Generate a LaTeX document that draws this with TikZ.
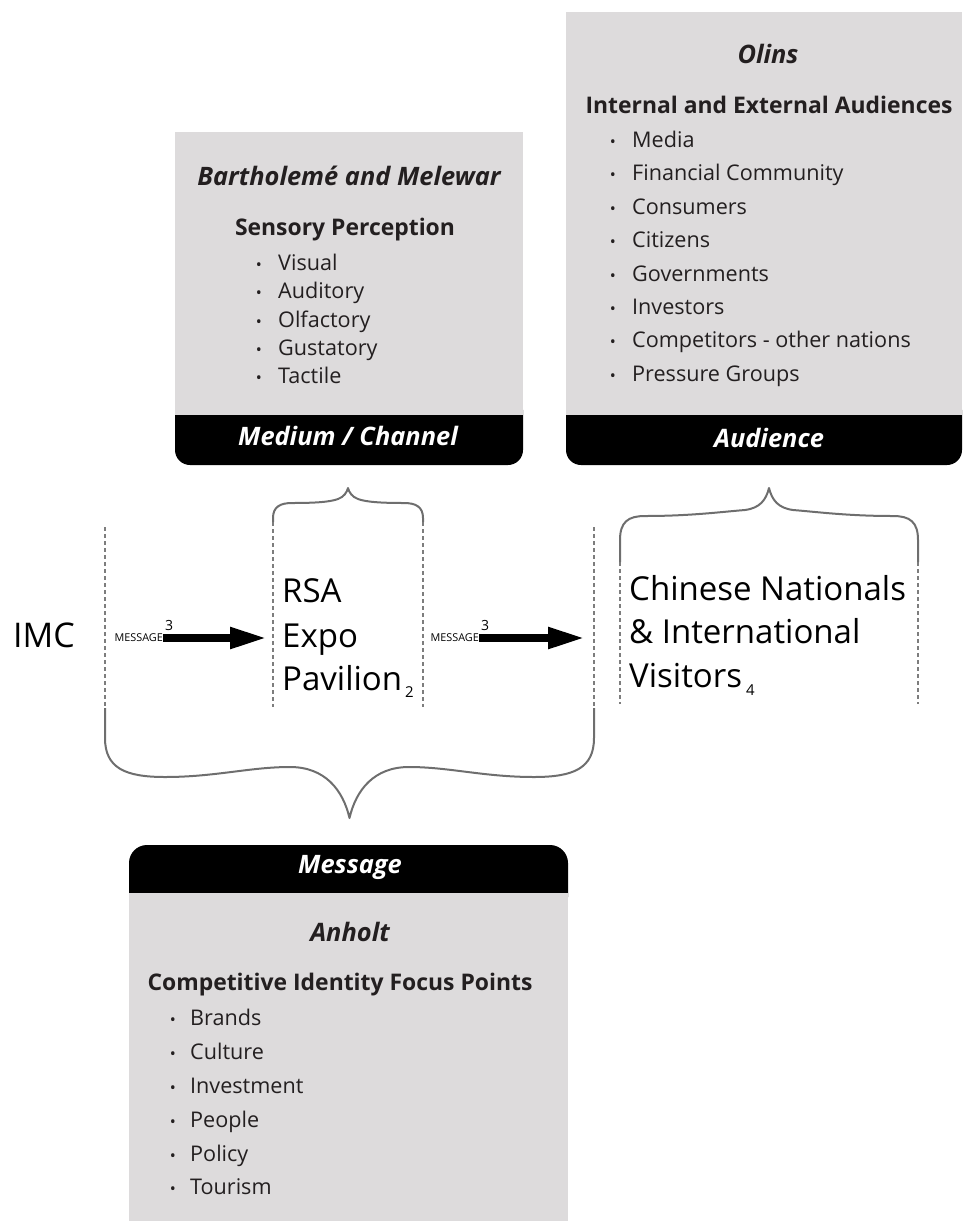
\documentclass[tikz,border=0pt]{standalone}
\usepackage{fontspec}
\setmainfont{Open Sans}
\usetikzlibrary{arrows.meta}
\definecolor{boxgray}{RGB}{221,219,220}
\definecolor{ink}{RGB}{35,31,32}
\definecolor{bracegray}{RGB}{110,110,110}
\definecolor{dashgray}{RGB}{125,125,125}
\begin{document}
\begin{tikzpicture}[x=1pt,y=-1pt,
  item/.style={anchor=base west,inner sep=0pt,text=ink,font=\fontsize{21.6}{25}\selectfont},
  dot/.style={anchor=base,inner sep=0pt,text=ink,font=\fontsize{16}{18}\selectfont},
  ttl/.style={anchor=base,inner sep=0pt,text=ink,font=\fontsize{25.4}{29}\selectfont\bfseries\itshape},
  hdr/.style={anchor=base,inner sep=0pt,text=ink,font=\fontsize{22.9}{27}\selectfont\bfseries},
  bartxt/.style={anchor=base,inner sep=0pt,text=white,font=\fontsize{25.4}{29}\selectfont\bfseries\itshape},
  bigtxt/.style={anchor=base west,inner sep=0pt,text=black,font=\fontsize{33}{40}\selectfont},
  smallcap/.style={anchor=east,inner sep=0pt,text=black,font=\fontsize{10.8}{12}\selectfont},
  supnum/.style={anchor=base west,inner sep=0pt,text=black,font=\fontsize{14}{16}\selectfont},
  bracestyle/.style={draw=bracegray,line width=2pt,line join=round},
  dashln/.style={draw=dashgray,line width=1.8pt,dash pattern=on 4pt off 3pt},
  arrowline/.style={draw=black,line width=8pt,-{Triangle[length=37pt,width=20pt]}}
]
\useasboundingbox (0,0) rectangle (962,1221);

% ---------- top-left box ----------
\fill[black,rounded corners=15pt] (175,395) rectangle (523,465);
\fill[boxgray] (175,132) rectangle (523,415);
\node[ttl] (bm) at (349,185) {Bartholemé and Melewar};
\node[hdr] (sp) at (345,235) {Sensory Perception};
\foreach \y/\t [count=\i] in {270/Visual,298/Auditory,327/Olfactory,355/Gustatory,383/Tactile}{
  \node[dot] (spd\i) at (259,\y) {•};
  \node[item] (spi\i) at (278,\y) {\t};
}
\node[bartxt] (medium) at (348,445) {Medium / Channel};

% ---------- top-right box ----------
\fill[black,rounded corners=15pt] (566,395) rectangle (962,465);
\fill[boxgray] (566,12) rectangle (962,415);
\node[ttl] (olins) at (768,63) {Olins};
\node[hdr] (iea) at (769,113) {Internal and External Audiences};
\foreach \y/\t [count=\i] in {147/Media,180.5/Financial Community,214/Consumers,247.5/Citizens,281/Governments,314/Investors,347.5/Competitors - other nations,381/Pressure Groups}{
  \node[dot] (aud\i) at (613,\y) {•};
  \node[item] (audi\i) at (632,\y) {\t};
}
\node[bartxt] (audience) at (769,447) {Audience};

% ---------- bottom box ----------
\fill[black,rounded corners=18pt] (129,845) rectangle (568,915);
\fill[boxgray] (129,893) rectangle (568,1221);
\node[bartxt] (message) at (350,873) {Message};
\node[ttl] (anholt) at (350,941) {Anholt};
\node[hdr] (cifp) at (340,990) {Competitive Identity Focus Points};
\foreach \y/\t [count=\i] in {1025/Brands,1059/Culture,1093/Investment,1127/People,1161/Policy,1194/Tourism}{
  \node[dot] (cd\i) at (173,\y) {•};
  \node[item] (ci\i) at (190,\y) {\t};
}

% ---------- middle row ----------
\node[anchor=base west,inner sep=0pt,font=\fontsize{34}{40}\selectfont] (imc) at (13,647) {IMC};
\node[bigtxt] (rsa) at (282,602) {RSA};
\node[bigtxt] (expo) at (282,647) {Expo};
\node[bigtxt] (pav) at (282,690) {Pavilion\kern3pt\raisebox{-7pt}{\fontsize{15}{16}\selectfont 2}};
\node[bigtxt] (cn1) at (629,600) {Chinese Nationals};
\node[bigtxt] (cn2) at (629,643) {\& International};
\node[bigtxt] (cn3) at (629,687) {Visitors\kern4pt\raisebox{-8pt}{\fontsize{15}{16}\selectfont 4}};

% dashed guides
\draw[dashln] (105,527) -- (105,708);
\draw[dashln] (273,522) -- (273,707);
\draw[dashln] (423,522) -- (423,707);
\draw[dashln] (594,527) -- (594,708);
\draw[dashln] (620,562) -- (620,704);
\draw[dashln] (918,562) -- (918,704);

% braces
\draw[bracestyle] (273,522) -- (273,518) .. controls (273,507) and (280,503) .. (292,503)
  .. controls (315,503) and (330,502) .. (338,499) .. controls (344,497) and (347,492) .. (348,488)
  .. controls (349,492) and (352,497) .. (358,499) .. controls (366,502) and (381,503) .. (404,503)
  .. controls (416,503) and (423,507) .. (423,518) -- (423,522);
\draw[bracestyle] (620,562) -- (620,540) .. controls (620,522) and (628,516) .. (645,516)
  .. controls (690,516) and (720,512) .. (745,510) .. controls (760,508) and (766,500) .. (769,488)
  .. controls (772,500) and (778,508) .. (793,510) .. controls (818,512) and (848,516) .. (893,516)
  .. controls (910,516) and (918,522) .. (918,540) -- (918,562);
\draw[bracestyle] (105,708) -- (105,738) .. controls (105,768) and (125,777) .. (165,777)
  .. controls (215,777) and (250,767) .. (290,767) .. controls (325,767) and (343,790) .. (349.5,818)
  .. controls (356,790) and (374,767) .. (409,767) .. controls (449,767) and (484,777) .. (534,777)
  .. controls (574,777) and (594,768) .. (594,738) -- (594,708);

% message arrows
\node[smallcap] (msg1) at (163,638) {MESSAGE};
\node[supnum] (n1) at (165,630) {3};
\coordinate (tip1) at (267,638);
\draw[arrowline] (msg1.east) -- (tip1);
\node[smallcap] (msg2) at (479,638) {MESSAGE};
\node[supnum] (n2) at (481,630) {3};
\coordinate (tip2) at (585,638);
\draw[arrowline] (msg2.east) -- (tip2);
\end{tikzpicture}
\end{document}
